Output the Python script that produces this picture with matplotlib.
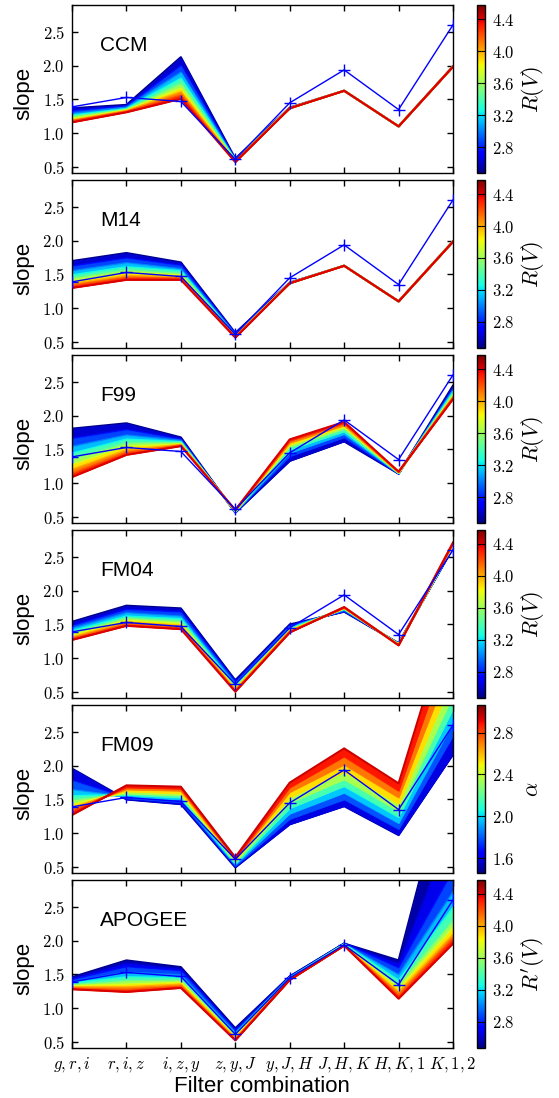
import numpy as np
import matplotlib
matplotlib.use('Agg')
import matplotlib.pyplot as plt
from matplotlib import cm, colors

plt.rcParams['mathtext.fontset'] = 'cm'
plt.rcParams['font.family'] = ['Liberation Sans', 'DejaVu Sans']

# ---------------- data ----------------
filters = ['$g,r,i$', '$r,i,z$', '$i,z,y$', '$z,y,J$',
           '$y,J,H$', '$J,H,K$', '$H,K,1$', '$K,1,2$']
reference_slope = [1.39, 1.53, 1.47, 0.61, 1.45, 1.94, 1.35, 2.61]

rv_levels = [2.5, 2.75, 3.0, 3.25, 3.5, 3.75, 4.0, 4.2, 4.4]
alpha_levels = [1.5, 1.69, 1.88, 2.06, 2.25, 2.44, 2.63, 2.8, 2.95]
apogee_levels = [2.5, 2.6, 2.75, 3.0, 3.25, 3.5, 3.75, 4.0, 4.2, 4.4]

# each inner list: slopes for one filter combination, ordered by parameter level
ccm = [
    [1.37, 1.33, 1.29, 1.26, 1.24, 1.21, 1.19, 1.18, 1.16],
    [1.42, 1.40, 1.38, 1.36, 1.35, 1.34, 1.33, 1.32, 1.31],
    [2.13, 2.00, 1.90, 1.81, 1.73, 1.66, 1.61, 1.56, 1.51],
    [0.62, 0.61, 0.60, 0.60, 0.59, 0.59, 0.58, 0.57, 0.57],
    [1.38, 1.37, 1.37, 1.37, 1.37, 1.37, 1.37, 1.37, 1.37],
    [1.63, 1.63, 1.63, 1.63, 1.63, 1.63, 1.63, 1.63, 1.63],
    [1.10, 1.10, 1.10, 1.10, 1.10, 1.10, 1.10, 1.10, 1.10],
    [1.99, 1.99, 1.99, 1.99, 1.99, 1.99, 1.99, 1.99, 1.99],
]
m14 = [
    [1.70, 1.62, 1.55, 1.49, 1.44, 1.40, 1.36, 1.33, 1.30],
    [1.82, 1.74, 1.67, 1.61, 1.56, 1.52, 1.48, 1.45, 1.42],
    [1.68, 1.63, 1.58, 1.55, 1.51, 1.49, 1.46, 1.44, 1.42],
    [0.63, 0.62, 0.60, 0.59, 0.59, 0.58, 0.57, 0.57, 0.56],
    [1.38, 1.37, 1.37, 1.37, 1.37, 1.37, 1.37, 1.37, 1.37],
    [1.63, 1.63, 1.63, 1.63, 1.63, 1.63, 1.63, 1.63, 1.63],
    [1.10, 1.10, 1.10, 1.10, 1.10, 1.10, 1.10, 1.10, 1.10],
    [1.99, 1.99, 1.99, 1.99, 1.99, 1.99, 1.99, 1.99, 1.99],
]
f99 = [
    [1.81, 1.66, 1.54, 1.44, 1.35, 1.27, 1.20, 1.14, 1.09],
    [1.89, 1.79, 1.71, 1.65, 1.59, 1.54, 1.49, 1.45, 1.42],
    [1.68, 1.65, 1.63, 1.61, 1.60, 1.58, 1.57, 1.56, 1.55],
    [0.56, 0.57, 0.57, 0.58, 0.58, 0.59, 0.59, 0.60, 0.60],
    [1.33, 1.40, 1.45, 1.50, 1.54, 1.57, 1.60, 1.63, 1.65],
    [1.62, 1.68, 1.73, 1.77, 1.81, 1.84, 1.86, 1.89, 1.91],
    [1.14, 1.14, 1.15, 1.15, 1.15, 1.16, 1.16, 1.17, 1.17],
    [2.45, 2.41, 2.38, 2.35, 2.32, 2.30, 2.28, 2.27, 2.25],
]
fm04 = [
    [1.54, 1.48, 1.44, 1.40, 1.37, 1.34, 1.31, 1.29, 1.27],
    [1.78, 1.72, 1.67, 1.62, 1.59, 1.56, 1.53, 1.50, 1.48],
    [1.74, 1.68, 1.62, 1.58, 1.54, 1.51, 1.48, 1.45, 1.43],
    [0.67, 0.64, 0.61, 0.58, 0.56, 0.54, 0.53, 0.51, 0.50],
    [1.50, 1.48, 1.46, 1.44, 1.42, 1.41, 1.40, 1.39, 1.38],
    [1.69, 1.70, 1.72, 1.73, 1.74, 1.74, 1.75, 1.75, 1.76],
    [1.22, 1.22, 1.21, 1.21, 1.20, 1.20, 1.20, 1.19, 1.19],
    [2.64, 2.65, 2.66, 2.67, 2.68, 2.69, 2.70, 2.71, 2.72],
]
fm09 = [
    [1.96, 1.78, 1.64, 1.55, 1.48, 1.42, 1.37, 1.32, 1.27],
    [1.50, 1.52, 1.54, 1.57, 1.59, 1.62, 1.65, 1.68, 1.71],
    [1.43, 1.46, 1.50, 1.53, 1.56, 1.59, 1.63, 1.66, 1.69],
    [0.49, 0.51, 0.53, 0.55, 0.57, 0.59, 0.61, 0.62, 0.64],
    [1.13, 1.21, 1.29, 1.37, 1.45, 1.53, 1.61, 1.68, 1.75],
    [1.40, 1.50, 1.60, 1.70, 1.80, 1.91, 2.02, 2.14, 2.26],
    [0.97, 1.06, 1.15, 1.24, 1.33, 1.43, 1.53, 1.63, 1.74],
    [2.17, 2.45, 2.65, 2.85, 3.05, 3.30, 3.60, 3.95, 4.38],
]
apogee = [
    [1.46, 1.44, 1.42, 1.39, 1.37, 1.34, 1.33, 1.31, 1.29, 1.28],
    [1.71, 1.67, 1.61, 1.53, 1.46, 1.40, 1.35, 1.31, 1.27, 1.24],
    [1.61, 1.58, 1.55, 1.49, 1.45, 1.41, 1.38, 1.35, 1.32, 1.30],
    [0.70, 0.68, 0.66, 0.63, 0.61, 0.58, 0.57, 0.55, 0.53, 0.52],
    [1.47, 1.47, 1.46, 1.45, 1.45, 1.44, 1.43, 1.43, 1.42, 1.42],
    [1.96, 1.96, 1.96, 1.95, 1.95, 1.94, 1.94, 1.93, 1.93, 1.93],
    [1.71, 1.66, 1.59, 1.49, 1.41, 1.34, 1.28, 1.23, 1.18, 1.14],
    [4.80, 3.70, 3.04, 2.72, 2.49, 2.29, 2.19, 2.09, 2.03, 1.96],
]

rv_range = (2.47, 4.57)
alpha_range = (1.455, 3.06)
rv_ticks = [2.8, 3.2, 3.6, 4.0, 4.4]
alpha_ticks = [1.6, 2.0, 2.4, 2.8]
y_ticks = [0.5, 1.0, 1.5, 2.0, 2.5]

panels = [
    ('CCM', ccm, rv_levels, '$R(V)$', rv_range, rv_ticks),
    ('M14', m14, rv_levels, '$R(V)$', rv_range, rv_ticks),
    ('F99', f99, rv_levels, '$R(V)$', rv_range, rv_ticks),
    ('FM04', fm04, rv_levels, '$R(V)$', rv_range, rv_ticks),
    ('FM09', fm09, alpha_levels, r'$\alpha$', alpha_range, alpha_ticks),
    ('APOGEE', apogee, apogee_levels, "$R'(V)$", rv_range, rv_ticks),
]

# ---------------- plot ----------------
W, H = 559, 1098
fig = plt.figure(figsize=(W / 100, H / 100), dpi=100)
cmap = plt.get_cmap('jet')
x = np.arange(len(filters))

for i, (name, cols, levels, clabel, (vmin, vmax), cticks) in enumerate(panels):
    top = 5.4 + 175 * i
    bot = top + 168
    ax = fig.add_axes([72 / W, 1 - bot / H, 381 / W, 168 / H])
    norm = colors.Normalize(vmin, vmax)
    vals = np.array(cols).T
    for k in range(len(levels)):
        if k > 0:
            c = cmap(norm(0.5 * (levels[k - 1] + levels[k])))
            ax.fill_between(x, vals[k - 1], vals[k], facecolor=c,
                            edgecolor=c, lw=0.4, zorder=2)
        ax.plot(x, vals[k], color=cmap(norm(levels[k])), lw=1.5, zorder=2)
    ax.plot(x, reference_slope, color='#0000ff', marker='+', ms=9, mew=1.0,
            lw=1.0, zorder=5)
    ax.set_xlim(0, 7)
    ax.set_ylim(0.4, 2.9)
    ax.set_yticks(y_ticks, labels=[f'${v:.1f}$' for v in y_ticks])
    ax.set_xticks(x)
    if i == len(panels) - 1:
        ax.set_xticklabels(filters)
    else:
        ax.set_xticklabels([])
    ax.tick_params(direction='in', top=True, right=True, length=4, width=1,
                   labelsize=12, pad=5)
    for s in ax.spines.values():
        s.set_linewidth(1.0)
    ax.text(0.073, 0.76, name, transform=ax.transAxes, fontsize=15,
            ha='left', va='center')
    fig.text(24 / W, 1 - (top + 88) / H, 'slope', rotation=90, fontsize=16,
             ha='center', va='center')

    cax = fig.add_axes([477 / W, 1 - bot / H, 8 / W, 168 / H])
    cb = fig.colorbar(cm.ScalarMappable(norm=norm, cmap=cmap), cax=cax)
    cb.set_ticks(cticks, labels=[f'${t:.1f}$' for t in cticks])
    cb.outline.set_linewidth(1.0)
    cax.tick_params(direction='in', left=True, right=True, length=3,
                    labelsize=12, pad=5)
    fig.text(533 / W, 1 - (top + 84) / H, clabel, rotation=90, fontsize=16,
             ha='center', va='center')

fig.text(262 / W, 1 - 1086 / H, 'Filter combination', fontsize=16,
         ha='center', va='center')
fig.savefig('out.png', dpi=100)
